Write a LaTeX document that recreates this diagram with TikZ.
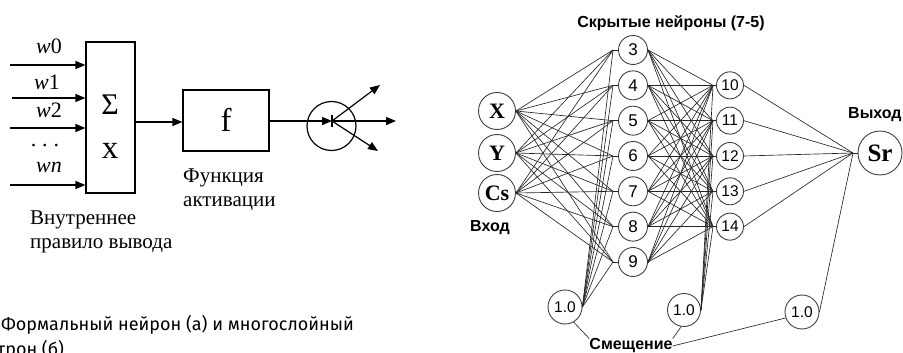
\documentclass[tikz,border=0pt]{standalone}
\usepackage{fontspec}
\setmainfont{Liberation Serif}
\newfontfamily\capfont{Fira Sans}
\newfontfamily\netfont{Liberation Sans}
\usetikzlibrary{arrows.meta}
\begin{document}
\begin{tikzpicture}[x=1pt,y=-1pt,
  arr/.style={-{Triangle[length=10pt,width=8pt]}, line width=1.2pt},
  blk/.style={draw, line width=1.2pt, inner sep=0pt},
  lbl/.style={font=\fontsize{21}{24}\selectfont, anchor=west, inner sep=0pt, align=left},
  wl/.style={font=\fontsize{22}{22}\selectfont, inner sep=0pt},
  nn/.style={draw=black!75, circle, line width=0.9pt, inner sep=0pt, font=\netfont\fontsize{17}{17}\selectfont},
  inn/.style={nn, font=\bfseries\fontsize{22}{22}\selectfont},
  wire/.style={draw=black!85, line width=0.65pt},
  nlab/.style={font=\netfont\bfseries\fontsize{16}{16}\selectfont, inner sep=0pt}
]
\useasboundingbox (0,0) rectangle (903,353);
\clip (0,0) rectangle (903,353);

% ---------- (a) formal neuron ----------
\node[blk, minimum width=49pt, minimum height=151pt] (sum) at (110.5,117.5) {};
\node[blk, minimum width=86pt, minimum height=61pt] (fb) at (226,120.5) {};
\node[inner sep=0pt, font=\fontsize{30}{30}\selectfont] (sig) at (110,105) {Σ};
\node[inner sep=0pt, font=\fontsize{33}{33}\selectfont] (xx) at (110,151) {x};
\node[inner sep=0pt, font=\fontsize{33}{33}\selectfont] (ff) at (226,120) {f};

\coordinate (i0) at (10,65);
\coordinate (i1) at (12,98);
\coordinate (i2) at (10,128);
\coordinate (i3) at (10,185);
\foreach \k in {0,1,2,3} \draw[arr] (i\k) -- (sum.west |- i\k);

\node[wl] (w0) at (49,46) {\textit{w}0};
\node[wl] (w1) at (47,82) {\textit{w}1};
\node[wl] (w2) at (49,110) {\textit{w}2};
\node[wl] (dots) at (45,146) {.\hspace{6pt}.\hspace{6pt}.};
\node[wl] (wn) at (49,167) {\textit{wn}};

\coordinate (sumout) at (135,122);
\draw[arr] (sumout) -- (fb.west |- sumout);
\node[draw, circle, minimum size=49pt, line width=1.2pt, inner sep=0pt] (act) at (331.5,126) {};
\coordinate (ac) at (332,121);
\coordinate (fout) at (fb.east |- ac);
\draw[arr] (fout) -- (ac);
\coordinate (tk1) at (332,115);
\coordinate (tk2) at (332,127);
\draw[line width=1.2pt] (tk1) -- (tk2);
\coordinate (o1) at (380,85);
\coordinate (o2) at (396,121);
\coordinate (o3) at (378,151);
\foreach \k in {1,2,3} \draw[arr] (ac) -- (o\k);

\node[lbl] (l1) at (30,231.5) {Внутреннее\\правило вывода};
\node[lbl] (l2) at (183,189.5) {Функция\\активации};

\node[font=\capfont\fontsize{18}{25}\selectfont, anchor=west, inner sep=0pt, align=left] (cap) at (1,337) {Формальный нейрон (а) и многослойный\\\hspace*{-4pt}трон (б)};

% ---------- (b) multilayer network ----------
\node[nlab] (title) at (671,23) {Скрытые нейроны (7-5)};

\node[inn, minimum size=37pt] (in1) at (497,111) {X};
\node[inn, minimum size=37pt] (in2) at (497,153) {Y};
\node[inn, minimum size=37pt] (in3) at (497,193) {Cs};
\node[nlab] (vin) at (490,228) {Вход};

\foreach \n in {3,...,9} {
  \pgfmathsetmacro{\yy}{50+35.33*(\n-3)}
  \node[nn, minimum size=29pt] (h\n) at (633,\yy) {\n};
  \coordinate (hL\n) at (613,\yy);
  \coordinate (hR\n) at (648,\yy);
}
\foreach \m in {10,...,14} {
  \pgfmathsetmacro{\yy}{50+35.33*(\m-9)}
  \node[nn, minimum size=27pt, font=\netfont\fontsize{15.5}{15.5}\selectfont] (g\m) at (730,\yy) {\m};
  \coordinate (gL\m) at (713,\yy);
}
\node[inn, minimum size=44pt, font=\bfseries\fontsize{25}{25}\selectfont] (sr) at (880,153) {Sr};
\coordinate (srL) at (853,153);
\node[nlab, anchor=west] (vout) at (848,115) {Выход};

\node[nn, minimum size=34pt, font=\netfont\fontsize{15.5}{15.5}\selectfont] (b1) at (565,307) {1.0};
\node[nn, minimum size=33pt, font=\netfont\fontsize{15.5}{15.5}\selectfont] (b2) at (684,310) {1.0};
\node[nn, minimum size=34pt, font=\netfont\fontsize{15.5}{15.5}\selectfont] (b3) at (802,312) {1.0};
\node[nlab] (sm) at (631,346) {Смещение};

\foreach \i in {1,2,3} \foreach \n in {3,...,9} \draw[wire] (in\i.east) -- (hL\n);
\foreach \n in {3,...,9} {
  \draw[wire] (hL\n) -- (h\n.west);
  \draw[wire] (h\n.east) -- (hR\n);
  \draw[wire] (b1.east) -- (hL\n);
  \foreach \m in {10,...,14} \draw[wire] (hR\n) -- (gL\m);
}
\foreach \m in {10,...,14} {
  \draw[wire] (gL\m) -- (g\m.west);
  \draw[wire] (b2.east) -- (gL\m);
  \draw[wire] (g\m.east) -- (srL);
}
\draw[wire] (srL) -- (sr.west);
\draw[wire] (b3.east) -- (srL);
\draw[wire] (b1.-60) -- (sm.north west);
\draw[wire] (b2.-100) -- (sm.north east);
\draw[wire] (b3.200) -- (sm.east);
\end{tikzpicture}
\end{document}
